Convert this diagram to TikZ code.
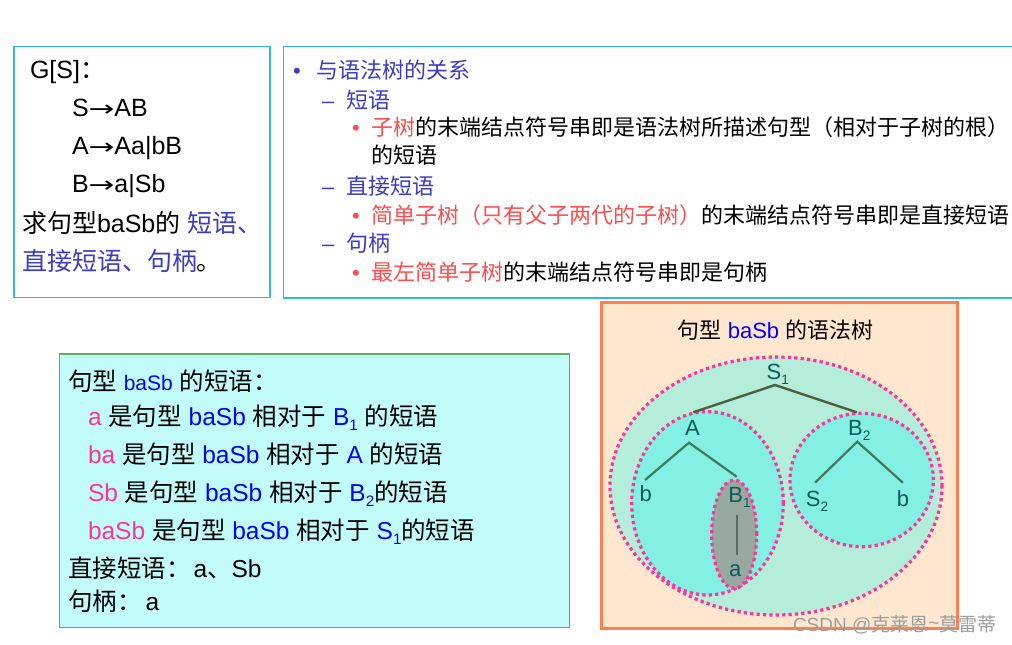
\documentclass[tikz,border=0pt]{standalone}
\usepackage{fontspec}
\usepackage{graphicx}
\setmainfont{Liberation Sans}
\newfontfamily\cjk{Noto Sans CJK SC}
\newfontfamily\dv{DejaVu Sans}
\newcommand\zh[1]{{\cjk #1}}
\newcommand\rarr{\scalebox{1.4}[1]{\dv\fontsize{22}{22}\selectfont →}}
\newcommand\lsub[1]{\raisebox{-0.24em}{\scalebox{0.62}{#1}}}
\newcommand\fs[1]{\fontsize{#1}{#1}\selectfont}
\usetikzlibrary{calc}
\definecolor{boxblue}{HTML}{33B5E5}
\definecolor{headblue}{HTML}{3C3CC8}
\definecolor{redtxt}{HTML}{FF4D4D}
\definecolor{pinktxt}{HTML}{FF3399}
\definecolor{pureblue}{HTML}{0000FF}
\definecolor{greenline}{HTML}{5BAE5B}
\definecolor{cyanfill}{HTML}{C2FCFA}
\definecolor{peach}{HTML}{FFE6CE}
\definecolor{coral}{HTML}{FF7F50}
\definecolor{mint}{HTML}{B4EDD9}
\definecolor{aqua}{HTML}{84EFE3}
\definecolor{graygreen}{HTML}{98AAA0}
\definecolor{dotpink}{HTML}{FF3399}
\definecolor{treetext}{HTML}{0A5C5C}
\definecolor{edgedark}{HTML}{4E5F3C}
\definecolor{edgemid}{HTML}{3E7B5E}
\definecolor{edgegray}{HTML}{5C6E58}
\tikzset{
  panel/.style={line width=1.3pt, inner sep=0pt, outer sep=0pt},
  txt/.style={anchor=base west, inner sep=0pt, outer sep=0pt},
  tl/.style={anchor=base, inner sep=0pt, outer sep=0pt, text height=16pt, text depth=4pt, font=\fs{22}, text=treetext},
  topedge/.style={line width=2.4pt, draw=edgedark},
  midedge/.style={line width=2.2pt, draw=edgemid},
  lowedge/.style={line width=2.2pt, draw=edgegray},
  dots/.style={draw=dotpink, line width=3.2pt, dash pattern=on 3.2pt off 3.2pt},
}
\begin{document}
\begin{tikzpicture}[x=1pt,y=-1pt]
\useasboundingbox (0,0) rectangle (1012,645);
\fill[white] (0,0) rectangle (1012,645);

% ---------- panel 1 ----------
\node[panel, draw=boxblue, minimum width=256pt, minimum height=251pt] (p1) at (142,172.3) {};
\node[txt, font=\fs{25}] (g) at (30,78) {G[S]\zh{：}};
\node[txt, font=\fs{25}] (r1) at (72,116) {S\rarr AB};
\node[txt, font=\fs{25}] (r2) at (72,154) {A\rarr Aa|bB};
\node[txt, font=\fs{25}] (r3) at (72,192) {B\rarr a|Sb};
\node[txt, font=\fs{25}] (q1) at (22,232) {\zh{求句型}baSb\zh{的} {\color{headblue}\zh{短语、}}};
\node[txt, font=\fs{25}] (q2) at (22,270) {{\color{headblue}\zh{直接短语、句柄}}\zh{。}};

% ---------- panel 2 ----------
\node[panel, draw=boxblue, minimum width=732pt, minimum height=251.5pt] (p2) at (649.5,172.3) {};
\node[txt, font=\fs{22}, text=headblue] (h0) at (293,78.5) {\makebox[23pt][l]{•}\zh{与语法树的关系}};
\node[txt, font=\fs{22}, text=headblue] (h1) at (322,108) {\makebox[24pt][l]{–}\zh{短语}};
\node[txt, font=\fs{22}] (h1a) at (352,135) {\makebox[19pt][l]{\color{redtxt}•}\zh{{\color{redtxt}子树}的末端结点符号串即是语法树所描述句型（相对于子树的根）}};
\node[txt, font=\fs{22}] (h1b) at (371,163) {\zh{的短语}};
\node[txt, font=\fs{22}, text=headblue] (h2) at (322,194) {\makebox[24pt][l]{–}\zh{直接短语}};
\node[txt, font=\fs{22}] (h2a) at (352,223) {\makebox[19pt][l]{\color{redtxt}•}\zh{{\color{redtxt}简单子树（只有父子两代的子树）}的末端结点符号串即是直接短语}};
\node[txt, font=\fs{22}, text=headblue] (h3) at (322,251) {\makebox[24pt][l]{–}\zh{句柄}};
\node[txt, font=\fs{22}] (h3a) at (352,280) {\makebox[19pt][l]{\color{redtxt}•}\zh{{\color{redtxt}最左简单子树}的末端结点符号串即是句柄}};

% ---------- panel 3 ----------
\node[panel, draw=greenline, fill=cyanfill, minimum width=510pt, minimum height=273.5pt] (p3) at (314.2,490.7) {};
\node[txt, font=\fs{24.5}] (l1) at (68,390) {\zh{句型} {\fs{21}\color{pureblue}baSb} \zh{的短语：}};
\node[txt, font=\fs{24.5}] (l2) at (88,425) {{\color{pinktxt}a} \zh{是句型} {\color{pureblue}baSb} \zh{相对于} {\color{pureblue}B\lsub{1}} \zh{的短语}};
\node[txt, font=\fs{24.5}] (l3) at (88,463) {{\color{pinktxt}ba} \zh{是句型} {\color{pureblue}baSb} \zh{相对于} {\color{pureblue}A} \zh{的短语}};
\node[txt, font=\fs{24.5}] (l4) at (88,501) {{\color{pinktxt}Sb} \zh{是句型} {\color{pureblue}baSb} \zh{相对于} {\color{pureblue}B\lsub{2}}\zh{的短语}};
\node[txt, font=\fs{24.5}] (l5) at (88,539) {{\color{pinktxt}baSb} \zh{是句型} {\color{pureblue}baSb} \zh{相对于} {\color{pureblue}S\lsub{1}}\zh{的短语}};
\node[txt, font=\fs{24.5}] (l6) at (68,577) {\zh{直接短语：}\hspace{3pt}a\zh{、}Sb};
\node[txt, font=\fs{24.5}] (l7) at (68,610) {\zh{句柄：}\hspace{4pt}a};

% ---------- panel 4 ----------
\node[panel, draw=coral, fill=peach, line width=3pt, minimum width=356pt, minimum height=326pt] (p4) at (779,465) {};
\node[anchor=base, inner sep=0pt, font=\fs{22}] (title) at (775.5,338.5) {\zh{句型} {\color{pureblue}baSb} \zh{的语法树}};

\fill[mint] (776,486) ellipse [x radius=166pt, y radius=129pt];
\draw[dots] (776,486) ellipse [x radius=166pt, y radius=129pt];
\fill[aqua] (707.5,503.3) ellipse [x radius=75.8pt, y radius=91.7pt];
\draw[dots] (707.5,503.3) ellipse [x radius=75.8pt, y radius=91.7pt];
\fill[aqua] (861.7,480) ellipse [x radius=71.7pt, y radius=66.7pt];
\draw[dots] (861.7,480) ellipse [x radius=71.7pt, y radius=66.7pt];
\fill[graygreen] (734.2,534.2) ellipse [x radius=22.5pt, y radius=54.2pt];
\draw[dots] (734.2,534.2) ellipse [x radius=22.5pt, y radius=54.2pt];

\node[tl] (S1) at (777.8,379.3) {S\lsub{1}};
\node[tl] (A) at (692.5,435) {A};
\node[tl] (B2) at (859.3,435) {B\lsub{2}};
\node[tl] (b1) at (645.8,501.7) {b};
\node[tl] (B1) at (739.5,502) {B\lsub{1}};
\node[tl] (a) at (735.3,576) {a};
\node[tl] (S2) at (817,506) {S\lsub{2}};
\node[tl] (b2) at (902.9,506) {b};

\draw[topedge] ($(A.north)+(0.8,-6.7)$) -- ($(S1.south)+(-2.8,1.7)$) -- ($(B2.north)+(-2.6,-6.7)$);
\draw[midedge] ($(b1.north)+(-0.8,-5.7)$) -- ($(A.south)+(-3.5,3.7)$) -- ($(B1.north)+(-2.8,-9.3)$);
\draw[midedge] ($(S2.north)+(-2,-7.3)$) -- ($(B2.south)+(-2,2.7)$) -- ($(b2.north)+(0,-7.3)$);
\draw[lowedge] ($(B1.south)+(-2.2,9)$) -- ($(a.north)+(2,-5)$);

% watermark
\node[txt, font=\fs{19}, text=black!38] (wm) at (793,631) {CSDN @\zh{克莱恩}\raisebox{0.1em}{\~{}}\zh{莫雷蒂}};
\end{tikzpicture}
\end{document}
